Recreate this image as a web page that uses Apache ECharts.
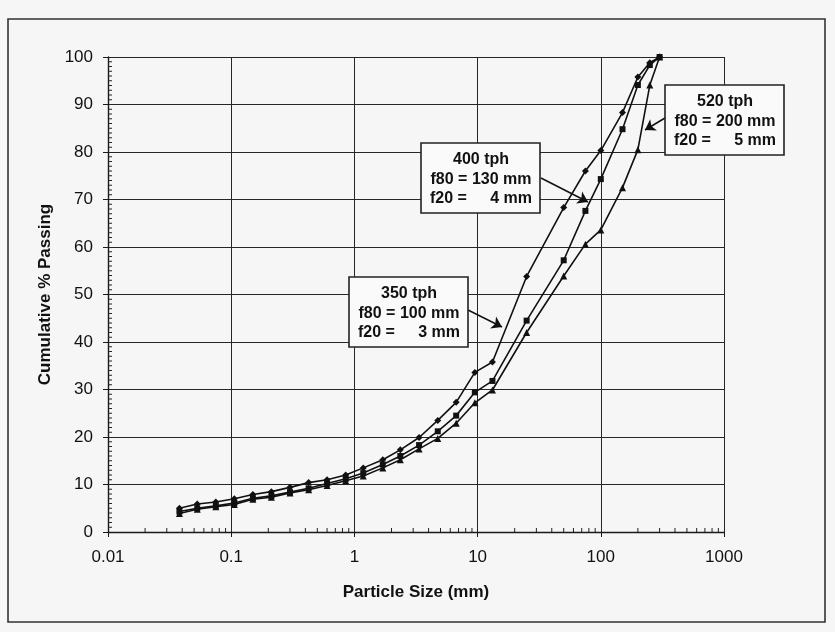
<!DOCTYPE html>
<html>
<head>
<meta charset="utf-8">
<script src="https://cdn.jsdelivr.net/npm/echarts@6/dist/echarts.min.js"></script>
<style>
    html, body { margin: 0; padding: 0; background: #f6f6f6; }
    #chart { width: 835px; height: 632px; }
</style>
</head>
<body>
<div id="chart"></div>
<script>
// particle sizes (mm)
var sizes = [0.038, 0.053, 0.075, 0.106, 0.15, 0.212, 0.3, 0.425, 0.6, 0.85, 1.18, 1.7, 2.36, 3.35, 4.75, 6.7, 9.5, 13.2, 25, 50, 75, 100, 150, 200, 250, 300];
// cumulative % passing
var pass350 = [5.0, 5.9, 6.3, 7.0, 7.9, 8.5, 9.4, 10.4, 11.0, 12.0, 13.5, 15.2, 17.3, 19.9, 23.5, 27.3, 33.6, 35.8, 53.8, 68.3, 76.0, 80.3, 88.3, 95.8, 98.8, 100];
var pass400 = [4.3, 5.0, 5.5, 6.1, 7.1, 7.6, 8.4, 9.2, 10.2, 11.2, 12.4, 14.2, 16.0, 18.3, 21.2, 24.5, 29.4, 31.8, 44.5, 57.2, 67.6, 74.3, 84.8, 94.1, 98.3, 100];
var pass520 = [3.9, 4.8, 5.3, 5.8, 6.9, 7.3, 8.2, 8.9, 9.8, 10.8, 11.8, 13.5, 15.2, 17.5, 19.7, 22.9, 27.2, 29.9, 42.0, 53.9, 60.6, 63.6, 72.5, 80.5, 94.1, 100];
var xTickLabels = ['0.01', '0.1', '1', '10', '100', '1000'];

// minor ticks (axis scaffolding)
var xMinor = [];
[0.01, 0.1, 1, 10, 100].forEach(function (d) {
    for (var k = 2; k <= 9; k++) xMinor.push(+(d * k).toPrecision(3));
});
var yMinor = [];
for (var v = 1; v < 100; v++) if (v % 10) yMinor.push(v);

function pairs(vals) {
    return sizes.map(function (s, i) { return [s, vals[i]]; });
}

var font = "'Liberation Sans', Arial, sans-serif";
var chart = echarts.init(document.getElementById('chart'));

// annotation box: rect + three lines of bold text
function box(x, y, cx, l1, l2, l3a, l3b) {
    var ts = { font: 'bold 16px ' + font, fill: '#111', verticalAlign: 'middle' };
    return [
        { type: 'rect', z: 100, shape: { x: x, y: y, width: 119, height: 70 },
          style: { fill: '#fafafa', stroke: '#222', lineWidth: 1.6 } },
        { type: 'text', z: 101, x: cx, y: y + 17, style: Object.assign({ text: l1, align: 'center' }, ts) },
        { type: 'text', z: 101, x: cx, y: y + 37, style: Object.assign({ text: l2, align: 'center' }, ts) },
        { type: 'text', z: 101, x: cx - 51, y: y + 56, style: Object.assign({ text: l3a, align: 'left' }, ts) },
        { type: 'text', z: 101, x: cx + 51, y: y + 56, style: Object.assign({ text: l3b, align: 'right' }, ts) }
    ];
}

var option = {
    backgroundColor: '#f6f6f6',
    animation: false,
    grid: { left: 108, right: 111, top: 57, bottom: 100 },
    xAxis: {
        type: 'log', logBase: 10, min: 0.01, max: 1000,
        name: 'Particle Size (mm)', nameLocation: 'middle', nameGap: 52,
        nameTextStyle: { fontFamily: font, fontWeight: 'bold', fontSize: 17, color: '#111' },
        axisLine: { lineStyle: { color: '#1a1a1a', width: 1.4 } },
        axisTick: { show: true, length: 5, lineStyle: { color: '#1a1a1a' } },
        axisLabel: {
            fontFamily: font, fontSize: 17, color: '#111', margin: 17,
            formatter: function (val) {
                var i = Math.round(Math.log10(val)) + 2;
                return xTickLabels[i] || '';
            }
        },
        splitLine: { show: true, lineStyle: { color: '#262626', width: 1 } }
    },
    yAxis: {
        type: 'value', min: 0, max: 100, interval: 10,
        name: 'Cumulative % Passing', nameLocation: 'middle', nameGap: 46,
        nameTextStyle: { fontFamily: font, fontWeight: 'bold', fontSize: 17, color: '#111' },
        axisLine: { show: true, lineStyle: { color: '#1a1a1a', width: 1.4 } },
        axisTick: { show: true, length: 5, lineStyle: { color: '#1a1a1a' } },
        axisLabel: { fontFamily: font, fontSize: 17, color: '#111', margin: 15 },
        splitLine: { show: true, lineStyle: { color: '#262626', width: 1 } }
    },
    graphic: [
        { type: 'rect', z: -10, shape: { x: 8, y: 19, width: 817, height: 603 },
          style: { fill: 'none', stroke: '#333', lineWidth: 1.6 } }
    ].concat(
        box(421, 143, 481, '400 tph', 'f80 = 130 mm', 'f20 =', '4 mm'),
        box(349, 277, 409, '350 tph', 'f80 = 100 mm', 'f20 =', '3 mm'),
        box(665, 85, 725, '520 tph', 'f80 = 200 mm', 'f20 =', '5 mm')
    ),
    series: [
        {
            name: '350 tph', type: 'line', data: pairs(pass350),
            symbol: 'diamond', symbolSize: 7, showAllSymbol: true,
            lineStyle: { color: '#111', width: 1.6 }, itemStyle: { color: '#111' },
            markLine: {
                silent: true, symbol: ['none', 'arrow'], symbolSize: 10,
                label: { show: false },
                lineStyle: { color: '#111', width: 1.5, type: 'solid' },
                data: [
                    [{ x: 468, y: 310 }, { x: 502, y: 327 }],
                    [{ x: 541, y: 178 }, { x: 588, y: 202 }],
                    [{ x: 665, y: 118 }, { x: 645, y: 130 }]
                ]
            }
        },
        {
            name: '400 tph', type: 'line', data: pairs(pass400),
            symbol: 'rect', symbolSize: 6, showAllSymbol: true,
            lineStyle: { color: '#111', width: 1.6 }, itemStyle: { color: '#111' }
        },
        {
            name: '520 tph', type: 'line', data: pairs(pass520),
            symbol: 'triangle', symbolSize: 7, showAllSymbol: true,
            lineStyle: { color: '#111', width: 1.6 }, itemStyle: { color: '#111' }
        },
        {
            // minor ticks on the x axis
            type: 'custom', silent: true, clip: false,
            data: xMinor.map(function (v) { return [v, 0]; }),
            renderItem: function (params, api) {
                var p = api.coord([api.value(0), 0]);
                return { type: 'line', shape: { x1: p[0], y1: p[1], x2: p[0], y2: p[1] - 4 },
                         style: { stroke: '#222', lineWidth: 1 } };
            }
        },
        {
            // minor ticks on the y axis
            type: 'custom', silent: true, clip: false,
            data: yMinor.map(function (v) { return [0.01, v]; }),
            renderItem: function (params, api) {
                var p = api.coord([0.01, api.value(1)]);
                return { type: 'line', shape: { x1: p[0], y1: p[1], x2: p[0] + 4, y2: p[1] },
                         style: { stroke: '#222', lineWidth: 1 } };
            }
        }
    ]
};
chart.setOption(option);
</script>
</body>
</html>
